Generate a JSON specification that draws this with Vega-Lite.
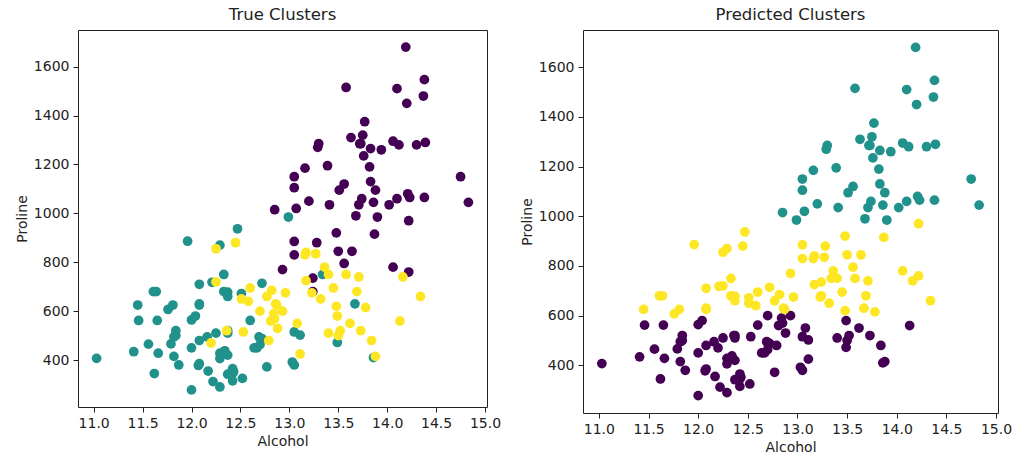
{
  "$schema": "https://vega.github.io/schema/vega-lite/v6.json",
  "background": "white",
  "padding": {"left": 14, "top": 6, "right": 5, "bottom": 5},
  "config": {
    "font": "DejaVu Sans",
    "view": {"stroke": "#222222", "strokeWidth": 1},
    "axis": {
      "domain": false, "grid": false, "ticks": true, "tickColor": "#222222", "tickSize": 5,
      "labelFontSize": 14, "labelColor": "#222222", "labelPadding": 4,
      "titleFontSize": 14, "titleFontWeight": "normal", "titleColor": "#222222"
    },
    "title": {"fontSize": 16.5, "fontWeight": "normal", "color": "#222222", "offset": 7},
    "concat": {"spacing": 17}
  },
  "data": {"values": [
    {"a":14.23,"p":1065,"t":0,"c":1},{"a":13.2,"p":1050,"t":0,"c":1},{"a":13.16,"p":1185,"t":0,"c":1},{"a":14.37,"p":1480,"t":0,"c":1},{"a":13.24,"p":735,"t":0,"c":2},
    {"a":14.2,"p":1450,"t":0,"c":1},{"a":14.39,"p":1290,"t":0,"c":1},{"a":14.06,"p":1295,"t":0,"c":1},{"a":14.83,"p":1045,"t":0,"c":1},{"a":13.86,"p":1045,"t":0,"c":1},
    {"a":14.1,"p":1510,"t":0,"c":1},{"a":14.12,"p":1280,"t":0,"c":1},{"a":13.75,"p":1320,"t":0,"c":1},{"a":14.75,"p":1150,"t":0,"c":1},{"a":14.38,"p":1547,"t":0,"c":1},
    {"a":13.63,"p":1310,"t":0,"c":1},{"a":14.3,"p":1280,"t":0,"c":1},{"a":13.83,"p":1130,"t":0,"c":1},{"a":14.19,"p":1680,"t":0,"c":1},{"a":13.64,"p":845,"t":0,"c":2},
    {"a":14.06,"p":780,"t":0,"c":2},{"a":12.93,"p":770,"t":0,"c":2},{"a":13.71,"p":1035,"t":0,"c":1},{"a":12.85,"p":1015,"t":0,"c":1},{"a":13.5,"p":845,"t":0,"c":2},
    {"a":13.05,"p":830,"t":0,"c":2},{"a":13.39,"p":1195,"t":0,"c":1},{"a":13.3,"p":1285,"t":0,"c":1},{"a":13.87,"p":915,"t":0,"c":2},{"a":14.02,"p":1035,"t":0,"c":1},
    {"a":13.73,"p":1285,"t":0,"c":1},{"a":13.58,"p":1515,"t":0,"c":1},{"a":13.68,"p":990,"t":0,"c":1},{"a":13.76,"p":1235,"t":0,"c":1},{"a":13.51,"p":1095,"t":0,"c":1},
    {"a":13.48,"p":920,"t":0,"c":2},{"a":13.28,"p":880,"t":0,"c":2},{"a":13.05,"p":1105,"t":0,"c":1},{"a":13.07,"p":1020,"t":0,"c":1},{"a":14.22,"p":760,"t":0,"c":2},
    {"a":13.56,"p":795,"t":0,"c":2},{"a":13.41,"p":1035,"t":0,"c":1},{"a":13.88,"p":1095,"t":0,"c":1},{"a":13.24,"p":680,"t":0,"c":2},{"a":13.05,"p":885,"t":0,"c":2},
    {"a":14.21,"p":1080,"t":0,"c":1},{"a":14.38,"p":1065,"t":0,"c":1},{"a":13.9,"p":985,"t":0,"c":1},{"a":14.1,"p":1060,"t":0,"c":1},{"a":13.94,"p":1260,"t":0,"c":1},
    {"a":13.05,"p":1150,"t":0,"c":1},{"a":13.83,"p":1265,"t":0,"c":1},{"a":13.82,"p":1190,"t":0,"c":1},{"a":13.77,"p":1375,"t":0,"c":1},{"a":13.74,"p":1060,"t":0,"c":1},
    {"a":13.56,"p":1120,"t":0,"c":1},{"a":14.22,"p":970,"t":0,"c":2},{"a":13.29,"p":1270,"t":0,"c":1},{"a":13.72,"p":1285,"t":0,"c":1},
    {"a":12.37,"p":520,"t":1,"c":0},{"a":12.33,"p":680,"t":1,"c":2},{"a":12.64,"p":450,"t":1,"c":0},{"a":13.67,"p":630,"t":1,"c":2},{"a":12.37,"p":420,"t":1,"c":0},
    {"a":12.17,"p":355,"t":1,"c":0},{"a":12.37,"p":678,"t":1,"c":2},{"a":13.11,"p":502,"t":1,"c":0},{"a":12.37,"p":510,"t":1,"c":0},{"a":13.34,"p":750,"t":1,"c":2},
    {"a":12.21,"p":718,"t":1,"c":2},{"a":12.29,"p":870,"t":1,"c":2},{"a":13.86,"p":410,"t":1,"c":0},{"a":13.49,"p":472,"t":1,"c":0},{"a":12.99,"p":985,"t":1,"c":1},
    {"a":11.96,"p":886,"t":1,"c":2},{"a":11.66,"p":428,"t":1,"c":0},{"a":13.03,"p":392,"t":1,"c":0},{"a":11.84,"p":500,"t":1,"c":0},{"a":12.33,"p":750,"t":1,"c":2},
    {"a":12.7,"p":463,"t":1,"c":0},{"a":12.0,"p":278,"t":1,"c":0},{"a":12.72,"p":714,"t":1,"c":2},{"a":12.08,"p":630,"t":1,"c":2},{"a":13.05,"p":515,"t":1,"c":0},
    {"a":11.84,"p":520,"t":1,"c":0},{"a":12.67,"p":450,"t":1,"c":0},{"a":12.16,"p":495,"t":1,"c":0},{"a":11.65,"p":562,"t":1,"c":0},{"a":11.64,"p":680,"t":1,"c":2},
    {"a":12.08,"p":625,"t":1,"c":2},{"a":12.08,"p":480,"t":1,"c":0},{"a":12.0,"p":450,"t":1,"c":0},{"a":12.69,"p":495,"t":1,"c":0},{"a":12.29,"p":290,"t":1,"c":0},
    {"a":11.62,"p":345,"t":1,"c":0},{"a":12.47,"p":937,"t":1,"c":2},{"a":11.81,"p":625,"t":1,"c":2},{"a":12.29,"p":428,"t":1,"c":0},{"a":12.37,"p":660,"t":1,"c":2},
    {"a":12.29,"p":406,"t":1,"c":0},{"a":12.08,"p":710,"t":1,"c":2},{"a":12.6,"p":562,"t":1,"c":0},{"a":12.34,"p":438,"t":1,"c":0},{"a":11.82,"p":415,"t":1,"c":0},
    {"a":12.51,"p":672,"t":1,"c":2},{"a":12.42,"p":315,"t":1,"c":0},{"a":12.25,"p":510,"t":1,"c":0},{"a":12.72,"p":488,"t":1,"c":0},{"a":12.22,"p":312,"t":1,"c":0},
    {"a":11.61,"p":680,"t":1,"c":2},{"a":11.46,"p":562,"t":1,"c":0},{"a":12.52,"p":325,"t":1,"c":0},{"a":11.76,"p":607,"t":1,"c":2},{"a":11.41,"p":434,"t":1,"c":0},
    {"a":12.08,"p":385,"t":1,"c":0},{"a":11.03,"p":407,"t":1,"c":0},{"a":11.82,"p":495,"t":1,"c":0},{"a":12.42,"p":345,"t":1,"c":0},{"a":12.77,"p":372,"t":1,"c":0},
    {"a":12.0,"p":564,"t":1,"c":0},{"a":11.45,"p":625,"t":1,"c":2},{"a":11.56,"p":465,"t":1,"c":0},{"a":12.42,"p":365,"t":1,"c":0},{"a":13.05,"p":380,"t":1,"c":0},
    {"a":11.87,"p":380,"t":1,"c":0},{"a":12.07,"p":378,"t":1,"c":0},{"a":12.43,"p":352,"t":1,"c":0},{"a":11.79,"p":466,"t":1,"c":0},{"a":12.37,"p":342,"t":1,"c":0},
    {"a":12.04,"p":580,"t":1,"c":0},
    {"a":12.86,"p":630,"t":2,"c":2},{"a":12.88,"p":530,"t":2,"c":0},{"a":12.81,"p":560,"t":2,"c":0},{"a":12.7,"p":600,"t":2,"c":0},{"a":12.51,"p":650,"t":2,"c":2},
    {"a":12.6,"p":695,"t":2,"c":2},{"a":12.25,"p":720,"t":2,"c":2},{"a":12.53,"p":515,"t":2,"c":0},{"a":13.49,"p":580,"t":2,"c":0},{"a":12.84,"p":590,"t":2,"c":0},
    {"a":12.93,"p":600,"t":2,"c":0},{"a":13.36,"p":780,"t":2,"c":2},{"a":13.52,"p":520,"t":2,"c":0},{"a":13.62,"p":550,"t":2,"c":0},{"a":12.25,"p":855,"t":2,"c":2},
    {"a":13.16,"p":830,"t":2,"c":2},{"a":13.88,"p":415,"t":2,"c":0},{"a":12.87,"p":625,"t":2,"c":2},{"a":13.32,"p":650,"t":2,"c":2},{"a":13.08,"p":550,"t":2,"c":0},
    {"a":13.5,"p":500,"t":2,"c":0},{"a":12.79,"p":480,"t":2,"c":0},{"a":13.11,"p":425,"t":2,"c":0},{"a":13.23,"p":675,"t":2,"c":2},{"a":12.58,"p":640,"t":2,"c":2},
    {"a":13.17,"p":725,"t":2,"c":2},{"a":13.84,"p":480,"t":2,"c":0},{"a":12.45,"p":880,"t":2,"c":2},{"a":14.34,"p":660,"t":2,"c":2},{"a":13.48,"p":620,"t":2,"c":2},
    {"a":12.36,"p":520,"t":2,"c":0},{"a":13.69,"p":680,"t":2,"c":2},{"a":12.85,"p":570,"t":2,"c":0},{"a":12.96,"p":675,"t":2,"c":2},{"a":13.78,"p":615,"t":2,"c":2},
    {"a":13.73,"p":520,"t":2,"c":0},{"a":13.45,"p":695,"t":2,"c":2},{"a":12.82,"p":685,"t":2,"c":2},{"a":13.58,"p":750,"t":2,"c":2},{"a":13.4,"p":510,"t":2,"c":0},
    {"a":12.2,"p":470,"t":2,"c":0},{"a":12.77,"p":660,"t":2,"c":2},{"a":14.16,"p":740,"t":2,"c":2},{"a":13.71,"p":740,"t":2,"c":2},{"a":13.4,"p":750,"t":2,"c":2},
    {"a":13.27,"p":835,"t":2,"c":2},{"a":13.17,"p":840,"t":2,"c":2},{"a":14.13,"p":560,"t":2,"c":0}
  ]},
  "hconcat": [
    {
      "title": "True Clusters",
      "width": 409, "height": 377,
      "mark": {"type": "circle", "size": 95, "opacity": 1},
      "encoding": {
        "x": {"field": "a", "type": "quantitative", "title": "Alcohol",
              "scale": {"domain": [10.84, 15.02], "nice": false, "zero": false},
              "axis": {"values": [11.0, 11.5, 12.0, 12.5, 13.0, 13.5, 14.0, 14.5, 15.0], "format": ".1f"}},
        "y": {"field": "p", "type": "quantitative", "title": "Proline",
              "scale": {"domain": [208, 1750], "nice": false, "zero": false},
              "axis": {"values": [400, 600, 800, 1000, 1200, 1400, 1600], "format": "d"}},
        "color": {"field": "t", "type": "nominal", "legend": null,
                  "scale": {"domain": [0, 1, 2], "range": ["#440154", "#21918c", "#fde725"]}}
      }
    },
    {
      "title": "Predicted Clusters",
      "width": 415, "height": 383,
      "mark": {"type": "circle", "size": 95, "opacity": 1},
      "encoding": {
        "x": {"field": "a", "type": "quantitative", "title": "Alcohol",
              "scale": {"domain": [10.84, 15.02], "nice": false, "zero": false},
              "axis": {"values": [11.0, 11.5, 12.0, 12.5, 13.0, 13.5, 14.0, 14.5, 15.0], "format": ".1f"}},
        "y": {"field": "p", "type": "quantitative", "title": "Proline",
              "scale": {"domain": [208, 1750], "nice": false, "zero": false},
              "axis": {"values": [400, 600, 800, 1000, 1200, 1400, 1600], "format": "d"}},
        "color": {"field": "c", "type": "nominal", "legend": null,
                  "scale": {"domain": [0, 1, 2], "range": ["#440154", "#21918c", "#fde725"]}}
      }
    }
  ],
  "resolve": {"scale": {"color": "independent"}}
}
